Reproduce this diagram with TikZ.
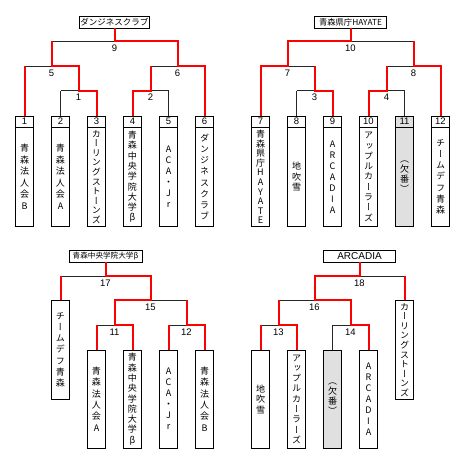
\documentclass[tikz,border=0pt]{standalone}
\usepackage{fontspec}
\setmainfont{Liberation Sans}
\newfontfamily\jpv{Noto Sans CJK JP}[RawFeature=+vert]
\newfontfamily\jph{Noto Sans CJK JP}
\definecolor{kgray}{HTML}{E0E0E0}
\tikzset{
  bl/.style={line width=0.9pt, draw=black!85},
  rl/.style={line width=2pt, draw=red},
  cell/.style={draw, line width=0.8pt, rectangle, minimum width=17.6pt, minimum height=11.5pt, inner sep=0pt, anchor=north, font=\fontsize{9.5}{10}\selectfont},
  tbox/.style={draw, line width=0.8pt, rectangle, minimum width=17.6pt, minimum height=#1, inner sep=0pt, anchor=north, align=center},
  vs/.style={font=\jpv\fontsize{9}{#1}\selectfont},
  win/.style={draw, line width=0.8pt, rectangle, minimum height=12pt, inner sep=0pt},
  lbl/.style={anchor=north, inner sep=0pt, yshift=-3.3pt, font=\fontsize{9.5}{10}\selectfont},
  absent/.style={fill=kgray},
}
\begin{document}
\begin{tikzpicture}[x=1pt,y=-1pt]
\fill[white] (0,0) rectangle (462,467);
\useasboundingbox (0,0) rectangle (462,467);

% ================= top-left =================
\node[win, minimum width=70pt, font=\jph\fontsize{8.5}{9}\selectfont] (w1) at (114.5,22) {ダンジネスクラブ};
\node[cell] (n1) at (24.5,115.5) {1};
\node[cell] (n2) at (60.5,115.5) {2};
\node[cell] (n3) at (96.5,115.5) {3};
\node[cell] (n4) at (132.5,115.5) {4};
\node[cell] (n5) at (168.5,115.5) {5};
\node[cell] (n6) at (204.5,115.5) {6};
\node[tbox=99pt, vs=11.5] (t1) at (24.5,127) {青\\森\\法\\人\\会\\B};
\node[tbox=99pt, vs=11.5] (t2) at (60.5,127) {青\\森\\法\\人\\会\\A};
\node[tbox=99pt, vs=9.6] (t3) at (96.5,127) {カ\\ー\\リ\\ン\\グ\\ス\\ト\\ー\\ン\\ズ};
\node[tbox=99pt, vs=10.3] (t4) at (132.5,127) {青\\森\\中\\央\\学\\院\\大\\学\\β};
\node[tbox=99pt, vs=11] (t5) at (168.5,127) {A\\C\\A\\・\\J\\r};
\node[tbox=99pt, vs=11.2] (t6) at (204.5,127) {ダ\\ン\\ジ\\ネ\\ス\\ク\\ラ\\ブ};

\coordinate (j9) at (114.5,41);
\coordinate (j5) at (51.5,66);
\coordinate (j6) at (177.5,66);
\coordinate (j1) at (78.5,90.5);
\coordinate (j2) at (150.5,90.5);

\draw[bl] (j9 -| j5) -- (j9);
\draw[bl] (j5 -| n1) -- (j5);
\draw[bl] (j1 -| n2) -- (j1);
\draw[bl] (j1 -| n2) -- (n2.north);
\draw[bl] (j6 -| j2) -- (j6);
\draw[bl] (j2) -- (j2 -| n5) -- (n5.north);
\draw[rl] (w1.south) -- (j9) -- (j9 -| j6) -- (j6) -- (j6 -| n6) -- (n6.north);
\draw[rl] (j9 -| j5) -- (j5) -- (j5 -| j1) -- (j1) -- (j1 -| n3) -- (n3.north);
\draw[rl] (j5 -| n1) -- (n1.north);
\draw[rl] (j6 -| j2) -- (j2) -- (j2 -| n4) -- (n4.north);

\node[lbl] (l9) at (j9) {9};
\node[lbl] (l5) at (j5) {5};
\node[lbl] (l6) at (j6) {6};
\node[lbl] (l1) at (j1) {1};
\node[lbl] (l2) at (j2) {2};

% ================= top-right =================
\node[win, minimum width=72pt, font=\jph\fontsize{8.3}{9}\selectfont] (w2) at (350.5,22) {青森県庁HAYATE};
\node[cell] (n7) at (260.5,115.5) {7};
\node[cell] (n8) at (296.5,115.5) {8};
\node[cell] (n9) at (332.5,115.5) {9};
\node[cell] (n10) at (368.5,115.5) {10};
\node[cell, absent] (n11) at (404.5,115.5) {11};
\node[cell] (n12) at (440.5,115.5) {12};
\node[tbox=99pt, vs=9.6] (t7) at (260.5,127) {青\\森\\県\\庁\\H\\A\\Y\\A\\T\\E};
\node[tbox=99pt, vs=10.5] (t8) at (296.5,127) {地\\吹\\雪};
\node[tbox=99pt, vs=11] (t9) at (332.5,127) {A\\R\\C\\A\\D\\I\\A};
\node[tbox=99pt, vs=10.3] (t10) at (368.5,127) {ア\\ッ\\プ\\ル\\カ\\ー\\ラ\\ー\\ズ};
\node[tbox=99pt, vs=10, absent] (t11) at (404.5,127) {（\\欠\\番\\）};
\node[tbox=99pt, vs=11.3] (t12) at (440.5,127) {チ\\ー\\ム\\デ\\フ\\青\\森};

\coordinate (j10) at (350.5,41);
\coordinate (j7) at (287.5,66);
\coordinate (j8) at (413.5,66);
\coordinate (j3) at (314.5,90.5);
\coordinate (j4) at (386.5,90.5);

\draw[bl] (j10) -- (j10 -| j8);
\draw[bl] (j7) -- (j7 -| j3);
\draw[bl] (j3 -| n8) -- (j3);
\draw[bl] (j3 -| n8) -- (n8.north);
\draw[bl] (j8 -| j4) -- (j8);
\draw[bl] (j4) -- (j4 -| n11) -- (n11.north);
\draw[rl] (w2.south) -- (j10) -- (j10 -| j7) -- (j7) -- (j7 -| n7) -- (n7.north);
\draw[rl] (j7 -| j3) -- (j3) -- (j3 -| n9) -- (n9.north);
\draw[rl] (j10 -| j8) -- (j8) -- (j8 -| n12) -- (n12.north);
\draw[rl] (j8 -| j4) -- (j4) -- (j4 -| n10) -- (n10.north);

\node[lbl] (l10) at (j10) {10};
\node[lbl] (l7) at (j7) {7};
\node[lbl] (l8) at (j8) {8};
\node[lbl] (l3) at (j3) {3};
\node[lbl] (l4) at (j4) {4};

% ================= bottom-left =================
\node[win, minimum width=73pt, font=\jph\fontsize{7.6}{9}\selectfont] (w3) at (105.5,256) {青森中央学院大学β};
\node[tbox=99pt, vs=11.3] (s1) at (60.5,300) {チ\\ー\\ム\\デ\\フ\\青\\森};
\node[tbox=98.5pt, vs=11.3] (b1) at (96.5,349.5) {青\\森\\法\\人\\会\\A};
\node[tbox=98.5pt, vs=10.3] (b2) at (132.5,349.5) {青\\森\\中\\央\\学\\院\\大\\学\\β};
\node[tbox=98.5pt, vs=11] (b3) at (168.5,349.5) {A\\C\\A\\・\\J\\r};
\node[tbox=98.5pt, vs=11.3] (b4) at (204.5,349.5) {青\\森\\法\\人\\会\\B};

\coordinate (j17) at (105.5,276);
\coordinate (j15) at (150.5,300);
\coordinate (j11) at (114.5,325);
\coordinate (j12) at (186.5,325);

\draw[bl] (j17 -| s1) -- (j17);
\draw[bl] (j15) -- (j15 -| j12);
\draw[bl] (j11 -| b1) -- (j11);
\draw[bl] (j12 -| b3) -- (j12);
\draw[rl] (w3.south) -- (j17) -- (j17 -| j15) -- (j15) -- (j15 -| j11) -- (j11) -- (j11 -| b2) -- (b2.north);
\draw[rl] (j17 -| s1) -- (s1.north);
\draw[rl] (j15 -| j12) -- (j12) -- (j12 -| b4) -- (b4.north);
\draw[rl] (j11 -| b1) -- (b1.north);
\draw[rl] (j12 -| b3) -- (b3.north);

\node[lbl] (l17) at (j17) {17};
\node[lbl] (l15) at (j15) {15};
\node[lbl] (l11) at (j11) {11};
\node[lbl] (l12) at (j12) {12};

% ================= bottom-right =================
\node[win, minimum width=72pt, font=\fontsize{10}{11}\selectfont] (w4) at (359.5,256) {ARCADIA};
\node[tbox=99pt, vs=9.6] (s2) at (404.5,300) {カ\\ー\\リ\\ン\\グ\\ス\\ト\\ー\\ン\\ズ};
\node[tbox=98.5pt, vs=10.5] (b5) at (260.5,349.5) {地\\吹\\雪};
\node[tbox=98.5pt, vs=10.3] (b6) at (296.5,349.5) {ア\\ッ\\プ\\ル\\カ\\ー\\ラ\\ー\\ズ};
\node[tbox=98.5pt, vs=10, absent] (b7) at (332.5,349.5) {（\\欠\\番\\）};
\node[tbox=98.5pt, vs=11] (b8) at (368.5,349.5) {A\\R\\C\\A\\D\\I\\A};

\coordinate (j18) at (359.5,276);
\coordinate (j16) at (314.5,300);
\coordinate (j13) at (278.5,325);
\coordinate (j14) at (350.5,325);

\draw[bl] (j18) -- (j18 -| s2);
\draw[bl] (j16 -| j13) -- (j16);
\draw[bl] (j13 -| b5) -- (j13);
\draw[bl] (j14 -| b7) -- (j14);
\draw[bl] (j14 -| b7) -- (b7.north);
\draw[rl] (w4.south) -- (j18) -- (j18 -| j16) -- (j16) -- (j16 -| j14) -- (j14) -- (j14 -| b8) -- (b8.north);
\draw[rl] (j18 -| s2) -- (s2.north);
\draw[rl] (j16 -| j13) -- (j13) -- (j13 -| b6) -- (b6.north);
\draw[rl] (j13 -| b5) -- (b5.north);

\node[lbl] (l18) at (j18) {18};
\node[lbl] (l16) at (j16) {16};
\node[lbl] (l13) at (j13) {13};
\node[lbl] (l14) at (j14) {14};
\end{tikzpicture}
\end{document}
